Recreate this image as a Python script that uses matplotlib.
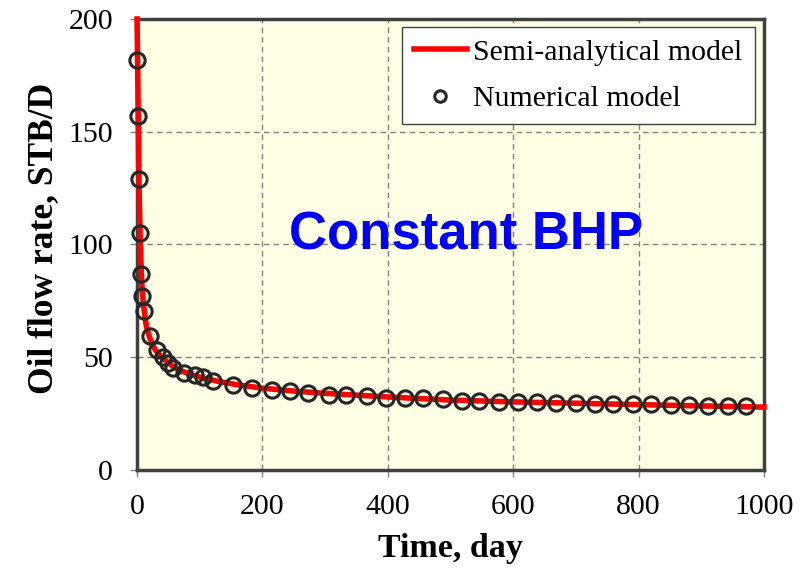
import matplotlib
matplotlib.use("Agg")
import matplotlib.pyplot as plt

# Semi-analytical model curve
t_line = [0.3, 1, 2, 3, 4, 5, 6, 8, 10, 12, 15, 20, 25, 30, 40, 50, 60, 75, 90, 110,
          130, 160, 200, 250, 300, 400, 500, 600, 700, 800, 900, 1000]
q_line = [200, 185, 160, 135, 118, 105, 95, 82, 75, 70, 64, 59, 55.5, 53, 50, 47.5, 45.5, 43.5,
          42, 40.5, 39.3, 37.8, 36.3, 35, 34, 32.4, 31, 30.2, 29.6, 29, 28.4, 27.9]

# Numerical model points
t_num = [1, 2, 3, 5, 7, 9, 11, 21, 32, 41, 49, 58, 75, 92, 106, 122, 154, 183, 215, 245,
         273, 307, 334, 367, 397, 427, 457, 488, 518, 546, 578, 608, 638, 669, 700, 730,
         760, 791, 820, 851, 881, 911, 942, 972]
q_num = [182, 157, 129, 105, 87, 77, 70.5, 59.5, 53.2, 50, 47.6, 45.2, 43.2, 42.1, 41.1,
         39.6, 37.7, 36.2, 35.5, 35, 34.3, 33.4, 33.3, 32.8, 32.1, 31.8, 31.8, 31.4,
         30.8, 30.7, 30.3, 30.3, 30.2, 29.8, 29.6, 29.4, 29.3, 29.2, 29.2, 28.8, 28.8,
         28.5, 28.2, 28.2]

x_ticks = [0, 200, 400, 600, 800, 1000]
y_ticks = [0, 50, 100, 150, 200]

fig = plt.figure(figsize=(8.05, 5.69), dpi=100)
ax = fig.add_axes([0.170, 0.174, 0.779, 0.7926])
ax.set_facecolor("#FFFFE6")

ax.plot(t_line, q_line, color="#FF0000", lw=4, label="Semi-analytical model", zorder=3,
        clip_on=False)
ax.plot(t_num, q_num, linestyle="none", marker="o", markersize=11, markerfacecolor="none",
        markeredgecolor="#262626", markeredgewidth=2.2, label="Numerical model", zorder=4,
        clip_on=False)

ax.set_xlim(0, 1000)
ax.set_ylim(0, 200)
ax.set_xticks(x_ticks)
ax.set_yticks(y_ticks)
ax.grid(True, linestyle=(0, (4, 3)), color="#808080", lw=1)
ax.set_axisbelow(True)

for s in ax.spines.values():
    s.set_color("#404040")
    s.set_linewidth(2.5)

ax.tick_params(axis="both", direction="out", length=5, color="#808080", width=1,
               labelsize=21.5)
ax.tick_params(axis="y", pad=12)
ax.tick_params(axis="x", pad=12)
for lab in ax.get_xticklabels() + ax.get_yticklabels():
    lab.set_fontfamily("Liberation Serif")

ax.set_xlabel("Time, day", fontfamily="Liberation Serif", fontweight="bold", fontsize=24.5,
              labelpad=10)
ax.set_ylabel("Oil flow rate, STB/D", fontfamily="Liberation Serif", fontweight="bold",
              fontsize=25.5)
ax.yaxis.set_label_coords(-0.123, 0.514)

ax.text(525, 104, "Constant BHP", color="#0000FF", fontfamily="Liberation Sans",
        fontweight="bold", fontsize=38, ha="center", va="center", zorder=5)

leg = ax.legend(loc="upper right", bbox_to_anchor=(0.985, 0.983),
                prop={"family": "Liberation Serif", "size": 21.5},
                frameon=True, fancybox=False, edgecolor="#404040", framealpha=1,
                borderaxespad=0, handlelength=1.8, handletextpad=0.2, labelspacing=0.66,
                borderpad=0.4, markerscale=0.75)
leg.get_frame().set_linewidth(1)

fig.savefig("out.png", dpi=100)
